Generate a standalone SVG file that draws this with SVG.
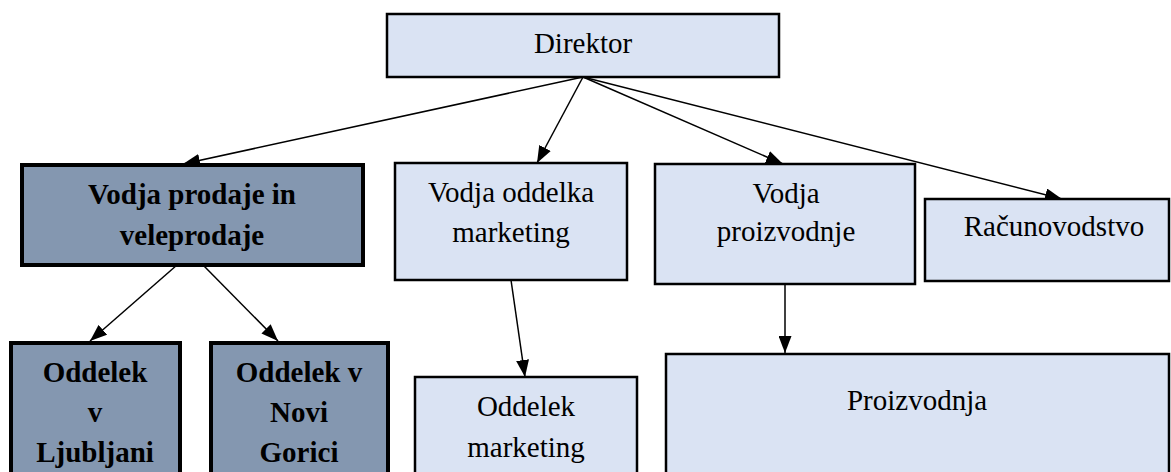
<svg xmlns="http://www.w3.org/2000/svg" width="1171" height="472" viewBox="0 0 1171 472">
  <defs>
    <style type="text/css">
      .box { fill: #DAE3F3; stroke: #000; stroke-width: 2.5; }
      .boxDark { fill: #8497B0; stroke: #000; stroke-width: 4; }
      .conn { fill: none; stroke: #000; stroke-width: 1.5; }
    </style>
    <marker id="arrow" viewBox="0 0 17 13" refX="17" refY="6.5" markerWidth="17" markerHeight="13" markerUnits="userSpaceOnUse" orient="auto">
      <path d="M0,0 L17,6.5 L0,13 z" fill="#000"/>
    </marker>
  </defs>
  <rect width="1171" height="472" fill="#fff"/>

  <!-- connectors -->
  <g id="connectors">
    <line class="conn" x1="583" y1="77" x2="183" y2="164" marker-end="url(#arrow)"/>
    <line class="conn" x1="583" y1="77" x2="537" y2="163" marker-end="url(#arrow)"/>
    <line class="conn" x1="583" y1="77" x2="783" y2="164" marker-end="url(#arrow)"/>
    <line class="conn" x1="583" y1="77" x2="1062" y2="199" marker-end="url(#arrow)"/>
    <line class="conn" x1="177" y1="265" x2="90" y2="341" marker-end="url(#arrow)"/>
    <line class="conn" x1="203" y1="265" x2="278" y2="341" marker-end="url(#arrow)"/>
    <line class="conn" x1="511" y1="280" x2="525" y2="377" marker-end="url(#arrow)"/>
    <line class="conn" x1="785" y1="284" x2="785" y2="353" marker-end="url(#arrow)"/>
  </g>

  <!-- all labels share one serif face, centred on their box -->
  <g font-family="'Liberation Serif', 'Times New Roman', Times, serif" font-size="29" text-anchor="middle" fill="#000">
    <g id="direktor">
      <rect class="box" x="387" y="14" width="392" height="63"/>
      <text x="583" y="53">Direktor</text>
    </g>

    <g id="vodja-prodaje" font-weight="bold">
      <rect class="boxDark" x="22" y="165" width="341" height="100"/>
      <text x="192" y="204">Vodja prodaje in</text>
      <text x="192" y="245">veleprodaje</text>
    </g>

    <g id="oddelek-ljubljana" font-weight="bold">
      <rect class="boxDark" x="11" y="343" width="169" height="140"/>
      <text x="95" y="382">Oddelek</text>
      <text x="95" y="422">v</text>
      <text x="95" y="462">Ljubljani</text>
    </g>

    <g id="oddelek-nova-gorica" font-weight="bold">
      <rect class="boxDark" x="211" y="343" width="177" height="140"/>
      <text x="299" y="382">Oddelek v</text>
      <text x="299" y="422">Novi</text>
      <text x="299" y="462">Gorici</text>
    </g>

    <g id="vodja-marketing">
      <rect class="box" x="395" y="163" width="232" height="117"/>
      <text x="511" y="202">Vodja oddelka</text>
      <text x="511" y="242">marketing</text>
    </g>

    <g id="vodja-proizvodnje">
      <rect class="box" x="655" y="164" width="260" height="120"/>
      <text x="786" y="203">Vodja</text>
      <text x="786" y="241">proizvodnje</text>
    </g>

    <g id="racunovodstvo">
      <rect class="box" x="925" y="199" width="244" height="82"/>
      <text x="1054" y="236">Računovodstvo</text>
    </g>

    <g id="oddelek-marketing">
      <rect class="box" x="415" y="377" width="222" height="110"/>
      <text x="526" y="416">Oddelek</text>
      <text x="526" y="457">marketing</text>
    </g>

    <g id="proizvodnja">
      <rect class="box" x="666" y="354" width="503" height="130"/>
      <text x="917" y="410">Proizvodnja</text>
    </g>
  </g>
</svg>
